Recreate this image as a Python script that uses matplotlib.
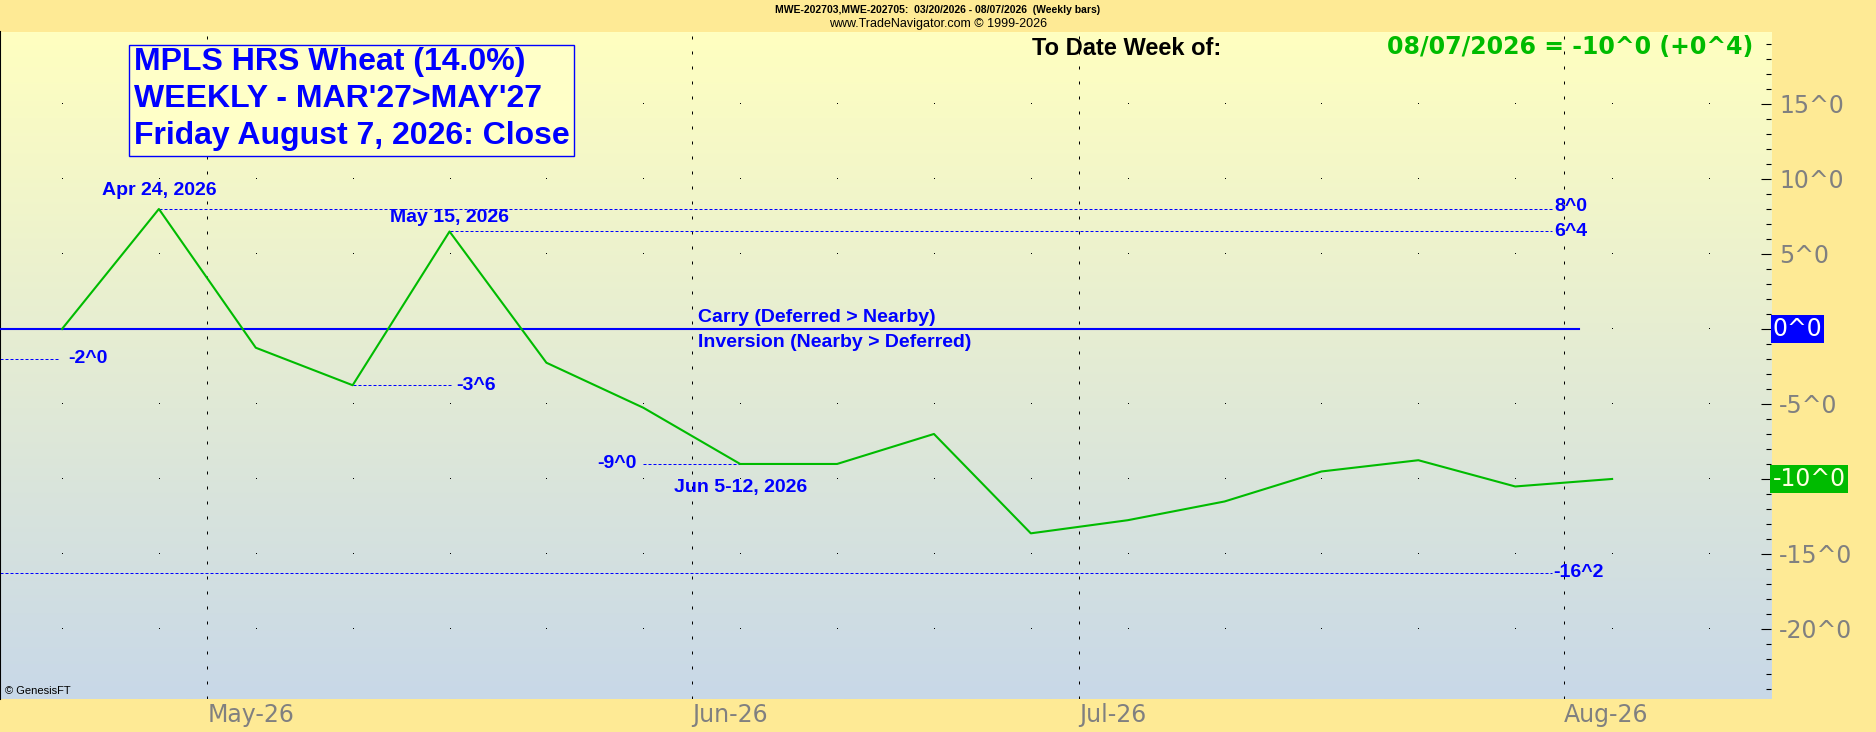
import datetime as dt
import numpy as np
import matplotlib
matplotlib.use('Agg')
import matplotlib.pyplot as plt
from matplotlib.patches import Rectangle
from matplotlib.transforms import blended_transform_factory

# weekly closes of the Mar'27 / May'27 spread, cents (fractions are eighths)
weeks = ['2026-04-17', '2026-04-24', '2026-05-01', '2026-05-08', '2026-05-15',
         '2026-05-22', '2026-05-29', '2026-06-05', '2026-06-12', '2026-06-19',
         '2026-06-26', '2026-07-03', '2026-07-10', '2026-07-17', '2026-07-24',
         '2026-07-31', '2026-08-07']
spread = [0.0, 8.0, -1.25, -3.75, 6.5, -2.25, -5.25, -9.0, -9.0, -7.0,
          -13.625, -12.75, -11.5, -9.5, -8.75, -10.5, -10.0]
prior_low = -2.0       # level marked at the left edge
contract_low = -16.25  # contract low marker
y_ticks = [15, 10, 5, 0, -5, -10, -15, -20]

BLUE = '#0000FF'
GREEN = '#00BB00'
GRAY = '#808080'
BANNER = '#FEEA95'
ARIAL = ['Liberation Sans', 'DejaVu Sans']


def eighths(v, plus=False):
    sign = '-' if v < 0 else ('+' if plus else '')
    a = abs(v)
    whole = int(a)
    frac = int(round((a - whole) * 8))
    return f'{sign}{whole}^{frac}'


dates = [dt.datetime.strptime(d, '%Y-%m-%d') for d in weeks]
x = np.arange(len(dates))

fig = plt.figure(figsize=(18.76, 7.32), dpi=100)
fig.patch.set_facecolor(BANNER)
ax = fig.add_axes([0, 33 / 732, 1771 / 1876, 667 / 732])
ax.set_xlim(-0.64, 17.64)
ax.set_ylim(-24.67, 19.8)

# background gradient
top = np.array([255, 255, 192]) / 255
bot = np.array([200, 216, 232]) / 255
t = np.linspace(0, 1, 256)[:, None]
grad = (top * (1 - t) + bot * t)[:, None, :]
ax.imshow(grad, extent=[-0.64, 17.64, -24.67, 19.8], aspect='auto', zorder=0,
          interpolation='bilinear')

# dotted horizontal grid (a dot at every bar)
bars = np.arange(0, 18)
for yv in y_ticks:
    ax.plot(bars, np.full(len(bars), yv), ',', color='black', zorder=1)

# month separators
months = []
for i in range(1, len(dates)):
    if dates[i].month != dates[i - 1].month:
        months.append((i - 0.5, dates[i].strftime('%b-%y')))
for pos, _ in months:
    ax.axvline(pos, color='black', lw=0.72, linestyle=(0, (3, 12)), zorder=1)

# zero line and labels
ax.plot([-0.64, 15.66], [0, 0], color=BLUE, lw=1.5, zorder=3)
ax.text(6.56, 0.75, 'Carry (Deferred > Nearby)', color=BLUE, fontsize=14,
        fontweight='bold', family=ARIAL, va='center', ha='left')
ax.text(6.56, -0.87, 'Inversion (Nearby > Deferred)', color=BLUE, fontsize=14,
        fontweight='bold', family=ARIAL, va='center', ha='left')

# spread line
ax.plot(x, spread, color=GREEN, lw=1.5, zorder=4)

# high / low reference lines
dot = dict(color=BLUE, lw=0.72, linestyle=(0, (3, 2)), zorder=2)
lab = dict(color=BLUE, fontsize=14, fontweight='bold', family=ARIAL, va='center')
end = 15.38
ax.plot([1, end], [spread[1], spread[1]], **dot)
ax.text(end + 0.02, spread[1] + 0.15, eighths(spread[1]), ha='left', **lab)
ax.text(1, 9.25, dates[1].strftime('%b %d, %Y').replace(' 0', ' '), ha='center', **lab)
ax.plot([4, end], [spread[4], spread[4]], **dot)
ax.text(end + 0.02, spread[4], eighths(spread[4]), ha='left', **lab)
ax.text(4, 7.45, dates[4].strftime('%b %d, %Y').replace(' 0', ' '), ha='center', **lab)
ax.plot([-0.64, -0.04], [prior_low, prior_low], **dot)
ax.text(0.06, prior_low, eighths(prior_low), ha='left', **lab)
ax.plot([3, 4.01], [spread[3], spread[3]], **dot)
ax.text(4.07, spread[3] - 0.05, eighths(spread[3]), ha='left', **lab)
ax.plot([6, 7], [spread[7], spread[7]], **dot)
ax.text(5.93, spread[7], eighths(spread[7]), ha='right', **lab)
ax.text(7.0, -10.6, 'Jun 5-12, 2026', ha='center', **lab)
ax.plot([-0.64, end], [contract_low, contract_low], **dot)
ax.text(end + 0.01, contract_low, eighths(contract_low), ha='left', **lab)

# title box
ax.add_patch(Rectangle((0.0728, 0.8141), 0.2513, 0.1664, transform=ax.transAxes,
                       facecolor='#FFFFC8', edgecolor=BLUE, lw=1, zorder=5))
for yy, s in zip([0.955, 0.8996, 0.844],
                 ['MPLS HRS Wheat (14.0%)', "WEEKLY - MAR'27>MAY'27",
                  'Friday August 7, 2026: Close']):
    ax.text(0.0757, yy, s, transform=ax.transAxes, color=BLUE, fontsize=23,
            fontweight='bold', family=ARIAL, va='center', ha='left', zorder=6)

ax.text(0.583, 0.976, 'To Date Week of:', transform=ax.transAxes, color='black',
        fontsize=17, fontweight='bold', family=ARIAL, va='center', ha='left')
ax.text(0.990, 0.978,
        f'{dates[-1]:%m/%d/%Y} = {eighths(spread[-1])} ({eighths(spread[-1] - spread[-2], True)})',
        transform=ax.transAxes, color=GREEN, fontsize=17, fontweight='bold',
        family='DejaVu Sans', va='center', ha='right')
ax.text(0.003, 0.012, '© GenesisFT', transform=ax.transAxes, color='black',
        fontsize=8, family=ARIAL, va='center', ha='left')

# axes styling
for side in ['top', 'right', 'bottom']:
    ax.spines[side].set_visible(False)
ax.spines['left'].set_color('black')
ax.spines['left'].set_linewidth(1.5)

ax.yaxis.tick_right()
ax.set_yticks(y_ticks)
ax.set_yticks(np.arange(-24, 20, 1), minor=True)
ax.set_yticklabels(['' if v in (0, spread[-1]) else eighths(v) for v in y_ticks])
ax.tick_params(axis='y', which='major', direction='in', length=7.2, width=0.8,
               pad=5.8, labelsize=17, labelcolor=GRAY, colors='black')
ax.tick_params(axis='y', which='minor', direction='in', length=3.6, width=0.8)
for lbl in ax.get_yticklabels():
    lbl.set_color(GRAY)

ax.set_xticks([m[0] for m in months])
ax.set_xticklabels([m[1] for m in months], ha='left')
ax.tick_params(axis='x', length=0, pad=3, labelsize=17, labelcolor=GRAY)

# value boxes on the price scale
tr = blended_transform_factory(ax.transAxes, ax.transData)
ax.text(1.0008, 0, eighths(0), transform=tr, color='white', fontsize=17,
        va='center', ha='left', clip_on=False,
        bbox=dict(boxstyle='square,pad=0.08', fc=BLUE, ec='none'))
ax.text(1.0008, spread[-1], eighths(spread[-1]), transform=tr, color='#FFFFE0',
        fontsize=17, va='center', ha='left', clip_on=False,
        bbox=dict(boxstyle='square,pad=0.1', fc=GREEN, ec='none'))

# header banner
fig.text(0.5, 1 - 10 / 732,
         'MWE-202703,MWE-202705:  03/20/2026 - 08/07/2026  (Weekly bars)',
         fontsize=7.5, fontweight='bold', family=ARIAL, ha='center', va='center')
fig.text(0.5, 1 - 24 / 732, 'www.TradeNavigator.com © 1999-2026',
         fontsize=9, family=ARIAL, ha='center', va='center')

fig.savefig('out.png', dpi=100, facecolor=BANNER)
